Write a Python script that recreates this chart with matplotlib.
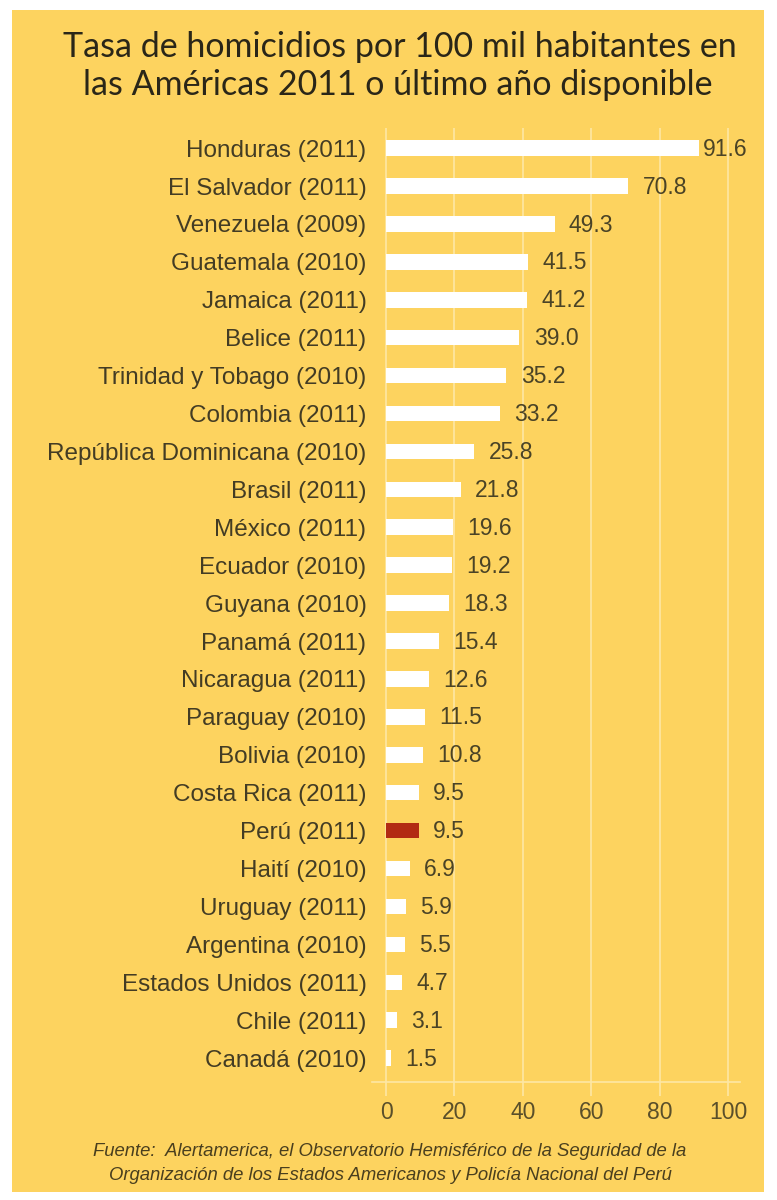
import numpy as np
import matplotlib.pyplot as plt

countries = ["Honduras (2011)", "El Salvador (2011)", "Venezuela (2009)", "Guatemala (2010)",
             "Jamaica (2011)", "Belice (2011)", "Trinidad y Tobago (2010)", "Colombia (2011)",
             "República Dominicana (2010)", "Brasil (2011)", "México (2011)", "Ecuador (2010)",
             "Guyana (2010)", "Panamá (2011)", "Nicaragua (2011)", "Paraguay (2010)",
             "Bolivia (2010)", "Costa Rica (2011)", "Perú (2011)", "Haití (2010)",
             "Uruguay (2011)", "Argentina (2010)", "Estados Unidos (2011)", "Chile (2011)",
             "Canadá (2010)"]
rates = [91.6, 70.8, 49.3, 41.5, 41.2, 39.0, 35.2, 33.2, 25.8, 21.8, 19.6, 19.2, 18.3,
         15.4, 12.6, 11.5, 10.8, 9.5, 9.5, 6.9, 5.9, 5.5, 4.7, 3.1, 1.5]
highlight = "Perú (2011)"
xticks = [0, 20, 40, 60, 80, 100]

bg = "#fdd35f"
grid_c = "#fee7a4"
text_c = "#433c24"

fig = plt.figure(figsize=(7.77, 12), dpi=100)
fig.patch.set_facecolor("white")
# yellow panel
fig.patches.append(plt.Rectangle((12 / 777, 8 / 1200), 752 / 777, 1182 / 1200,
                                 transform=fig.transFigure, facecolor=bg,
                                 edgecolor="none", zorder=-5))

ax = fig.add_axes([372 / 777, 1 - 1082 / 1200, 368 / 777, 954 / 1200])
ax.set_facecolor("none")
ax.set_zorder(2)

y = np.arange(len(countries))
colors = ["#b22b13" if c == highlight else "white" for c in countries]
ax.barh(y, rates, height=0.41, color=colors, zorder=3)
for yi, v in zip(y, rates):
    # keep the longest label inside the panel
    ax.text(min(v + 4.2, 92.6), yi + 0.03, f"{v:.1f}", va="center", ha="left",
            fontsize=16.5, color="#4a4326", family="Liberation Sans", zorder=4)

ax.set_xlim(-4.1, 103.5)
ax.set_ylim(len(countries) - 1 + 0.63, -0.53)
ax.set_yticks(y)
ax.set_yticklabels(countries, fontsize=17.5, color=text_c, family="Liberation Sans")
ax.tick_params(axis="y", length=0, pad=4)
ax.set_xticks(xticks)
ax.set_xticklabels([str(t) for t in xticks], fontsize=16.5, color="#5a4f2a",
                   family="Liberation Sans")
ax.tick_params(axis="x", length=10, color=grid_c, width=1.2, pad=4)
ax.grid(axis="x", color=grid_c, linewidth=1.2, zorder=1)
for s in ["top", "right", "left"]:
    ax.spines[s].set_visible(False)
ax.spines["bottom"].set_color(grid_c)
ax.spines["bottom"].set_linewidth(1.2)

fig.text(400 / 777, 1 - 47 / 1200, "Tasa de homicidios por 100 mil habitantes en",
         ha="center", va="center", fontsize=24.5, color="#2a2618", family="Lato")
fig.text(398 / 777, 1 - 85 / 1200, "las Américas 2011 o último año disponible",
         ha="center", va="center", fontsize=24.5, color="#2a2618", family="Lato")

fig.text(390 / 777, 1 - 1152 / 1200,
         "Fuente:  Alertamerica, el Observatorio Hemisférico de la Seguridad de la",
         ha="center", va="center", fontsize=13.3, style="italic", color="#4a3f1e",
         family="Liberation Sans")
fig.text(390 / 777, 1 - 1176 / 1200,
         "Organización de los Estados Americanos y Policía Nacional del Perú",
         ha="center", va="center", fontsize=13.3, style="italic", color="#4a3f1e",
         family="Liberation Sans")

fig.savefig("out.png", dpi=100, facecolor=fig.get_facecolor())
